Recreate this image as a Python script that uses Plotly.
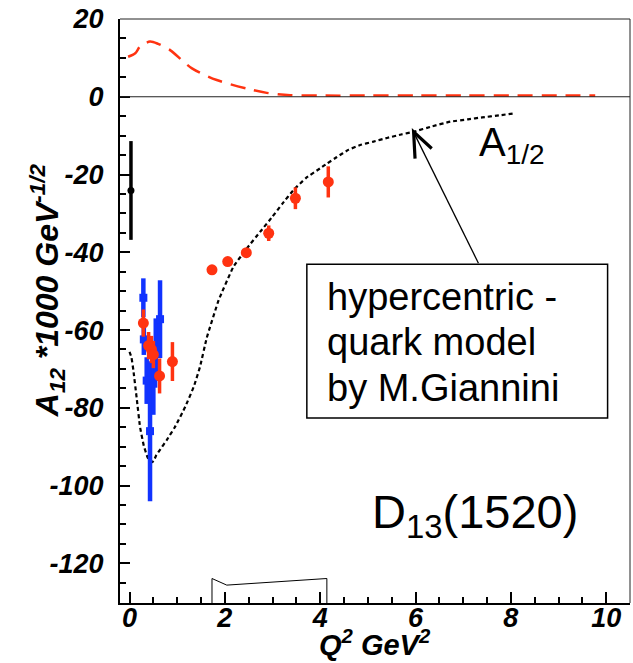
import plotly.graph_objects as go

# ---------------- data ----------------
# red dashed curve (upper)
red_curve_x = [-0.03, 0.12, 0.22, 0.43, 0.6, 0.85, 1.31, 1.83, 2.46, 2.88, 3.37, 4.0, 5.0, 6.0, 7.0, 8.0, 9.0, 9.77]
red_curve_y = [10.3, 11.2, 12.9, 14.2, 13.6, 12.0, 7.3, 4.3, 2.1, 1.0, 0.4, 0.3, 0.3, 0.3, 0.3, 0.3, 0.3, 0.3]

# hypercentric quark model (black dotted)
model_x = [0, 0.04, 0.08, 0.15, 0.22, 0.30, 0.38, 0.44, 0.47, 0.51, 0.56, 0.65, 0.78, 0.95, 1.17, 1.35, 1.48, 1.62, 1.87, 2.18, 2.46, 2.75, 3.0, 3.2, 3.44, 3.7, 4.0, 4.14, 4.35, 4.6, 4.84, 5.1, 5.4, 5.7, 5.96, 6.35, 6.73, 7.1, 7.4, 7.75, 8.05]
model_y = [-65.6, -67.0, -70.3, -77.5, -84.9, -89.8, -92.8, -93.8, -94.0, -93.6, -92.2, -90.6, -88.3, -85.0, -79.7, -74.5, -69.4, -62.0, -52.3, -43.7, -39.0, -34.6, -30.8, -27.6, -24.0, -20.9, -18.4, -17.2, -15.5, -13.6, -12.4, -11.6, -10.6, -9.7, -9.0, -7.6, -6.4, -5.8, -5.3, -4.8, -4.3]

# red data points
red_x = [0.29, 0.40, 0.46, 0.50, 0.63, 0.90, 1.73, 2.06, 2.45, 2.92, 3.48, 4.17]
red_y = [-58.2, -64.0, -65.0, -66.3, -71.8, -68.1, -44.5, -42.4, -40.1, -35.1, -26.1, -21.9]
red_err = [3.5, 3.5, 3.5, 3.5, 4.5, 5.0, 1.0, 1.0, 1.0, 2.0, 2.8, 4.0]

# blue data points
blue_x = [0.29, 0.30, 0.36, 0.43, 0.50, 0.55, 0.64]
blue_y = [-51.7, -62.4, -73.0, -86.0, -73.8, -65.0, -57.2]
blue_err = [5.0, 4.0, 6.0, 18.0, 8.0, 8.0, 10.0]

# black photon point
black_x = [0.03]
black_y = [-24.1]
black_err = [12.7]

# systematic band at bottom
sys_x = [1.73, 1.73, 2.04, 4.14, 4.14]
sys_y = [-130.2, -123.9, -125.6, -123.9, -130.2]

y_ticks = [20, 0, -20, -40, -60, -80, -100, -120]
y_tick_text = ["20", "0", "-20", "-40", "-60", "-80", "-100", "-120"]
x_ticks = [0, 2, 4, 6, 8, 10]
x_tick_text = ["0", "2", "4", "6", "8", "10"]

box_lines = ["hypercentric -", "quark model", "by M.Giannini"]

RED = "#ff3311"
BLUE = "#1133ff"
FONT = "Liberation Sans, Arial, Helvetica, sans-serif"

fig = go.Figure()

fig.add_trace(go.Scatter(x=red_curve_x, y=red_curve_y, mode="lines",
                         line=dict(color=RED, width=2.5, dash="15px,9px", shape="spline", smoothing=0.8),
                         hoverinfo="skip"))
fig.add_trace(go.Scatter(x=model_x, y=model_y, mode="lines",
                         line=dict(color="black", width=2.2, dash="4px,3px", shape="spline", smoothing=0.3),
                         hoverinfo="skip"))
fig.add_trace(go.Scatter(x=sys_x, y=sys_y, mode="lines",
                         line=dict(color="black", width=1), hoverinfo="skip"))
fig.add_trace(go.Scatter(x=blue_x, y=blue_y, mode="markers",
                         marker=dict(symbol="square", size=8, color=BLUE),
                         error_y=dict(type="data", array=blue_err, color=BLUE, thickness=4.5, width=0)))
fig.add_trace(go.Scatter(x=red_x, y=red_y, mode="markers",
                         marker=dict(symbol="circle", size=11, color=RED),
                         error_y=dict(type="data", array=red_err, color=RED, thickness=3.5, width=0)))
fig.add_trace(go.Scatter(x=black_x, y=black_y, mode="markers",
                         marker=dict(symbol="circle", size=7, color="black"),
                         error_y=dict(type="data", array=black_err, color="black", thickness=3.5, width=0)))

tickfont = dict(family=FONT, size=27, color="black", weight="bold", style="italic")

fig.update_layout(
    width=633, height=663,
    margin=dict(l=120, r=3, t=19, b=60),
    paper_bgcolor="white", plot_bgcolor="white",
    showlegend=False,
    xaxis=dict(range=[-0.2, 10.5], showgrid=False, zeroline=False,
               showline=True, linecolor="black", linewidth=2,
               tickmode="array", tickvals=x_ticks, ticktext=x_tick_text,
               ticks="inside", ticklen=11, tickwidth=2, tickcolor="black",
               tickfont=tickfont, ticklabelstandoff=-10,
               minor=dict(ticks="inside", ticklen=6, tickwidth=2, tickcolor="black", dtick=0.5, tick0=0)),
    yaxis=dict(range=[-130.2, 20], showgrid=False, zeroline=False,
               showline=True, linecolor="black", linewidth=2,
               tickmode="array", tickvals=y_ticks, ticktext=y_tick_text,
               ticks="inside", ticklen=10, tickwidth=2, tickcolor="black",
               tickfont=tickfont, ticklabelstandoff=9,
               minor=dict(ticks="inside", ticklen=6, tickwidth=2, tickcolor="black", dtick=5, tick0=0)),
)

shapes = [
    # top and right frame
    dict(type="line", xref="paper", yref="paper", x0=0, x1=1, y0=1, y1=1, line=dict(color="#222", width=1)),
    dict(type="line", xref="paper", yref="paper", x0=1, x1=1, y0=0, y1=1, line=dict(color="#222", width=1)),
    # zero line
    dict(type="line", xref="paper", yref="y", x0=0, x1=1, y0=0, y1=0, line=dict(color="#222", width=1)),
    # label box
    dict(type="rect", xref="x", yref="y", x0=3.72, x1=10.03, y0=-82.6, y1=-43.1,
         line=dict(color="black", width=1.5), fillcolor="white", layer="above"),
    # arrow shaft
    dict(type="line", xref="x", yref="y", x0=7.32, y0=-42.8, x1=5.98, y1=-9.6, line=dict(color="black", width=1.3)),
    # arrow head
    dict(type="path", xref="x", yref="y", path="M 5.99,-15.9 L 5.96,-9.0 L 6.34,-13.3",
         line=dict(color="black", width=3.2)),
]
fig.update_layout(shapes=shapes)

for txt, yy in zip(box_lines, [-51.6, -63.2, -74.8]):
    fig.add_annotation(text=txt, xref="x", yref="y",
                       x=4.10, y=yy, xanchor="left", yanchor="middle", align="left", showarrow=False,
                       font=dict(family=FONT, size=38, color="black"))
fig.add_annotation(text="D<sub>13</sub>(1520)", xref="x", yref="y",
                   x=5.05, y=-107.5, xanchor="left", yanchor="middle", showarrow=False,
                   font=dict(family=FONT, size=47, color="black"))
fig.add_annotation(text="A<sub>1/2</sub>", xref="x", yref="y",
                   x=7.30, y=-12.5, xanchor="left", yanchor="middle", showarrow=False,
                   font=dict(family=FONT, size=40, color="black", weight=300))
fig.add_annotation(text="A<sub>12</sub> *1000 GeV<sup>-1/2</sup>", xref="paper", yref="paper",
                   x=-0.142, y=0.535, xanchor="center", yanchor="middle", textangle=-90, showarrow=False,
                   font=dict(family=FONT, size=32, color="black", weight="bold", style="italic"))
fig.add_annotation(text="Q<sup>2</sup> GeV<sup>2</sup>", xref="paper", yref="paper",
                   x=0.5, y=-0.1025, xanchor="center", yanchor="bottom", showarrow=False,
                   font=dict(family=FONT, size=29, color="black", weight="bold", style="italic"))

fig.write_html("out.html")
